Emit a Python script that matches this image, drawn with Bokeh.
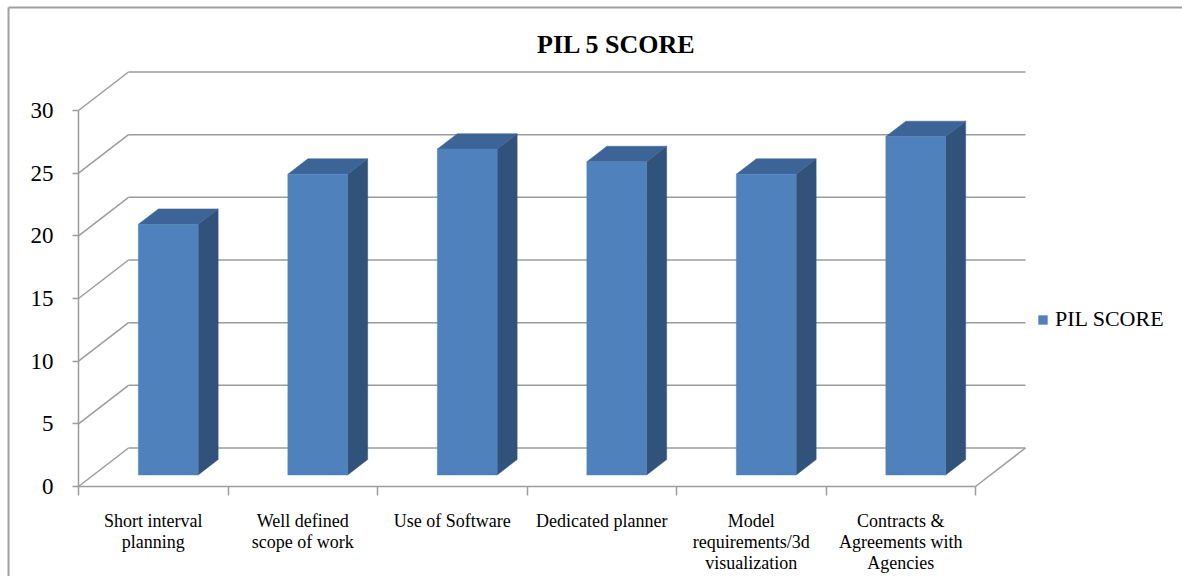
from bokeh.plotting import figure
from bokeh.models import (Range1d, LinearAxis, FixedTicker, Legend, LegendItem,
                          Label, ColumnDataSource)
from bokeh.embed import file_html
from bokeh.resources import INLINE

# ---- data -------------------------------------------------------------
categories = [
    "Short interval\nplanning",
    "Well defined\nscope of work",
    "Use of Software",
    "Dedicated planner",
    "Model\nrequirements/3d\nvisualization",
    "Contracts &\nAgreements with\nAgencies",
]
pil_score = [20, 24, 26, 25, 24, 27]
y_ticks = [0, 5, 10, 15, 20, 25, 30]
series_name = "PIL SCORE"
title_text = "PIL 5 SCORE"

# ---- layout / styling constants ----------------------------------------
W, H = 1182, 576
ORIGIN_X, ORIGIN_Y = 78, 486            # canvas px of the (0, 0) corner
PX_PER_CAT = 149.5                      # one category slot
PX_PER_VAL = 12.533                     # one unit on the value axis
DEPTH_PX_X, DEPTH_PX_Y = 50, 38.5       # oblique depth of the 3-D box

DX = DEPTH_PX_X / PX_PER_CAT            # depth offset in data units
DY = DEPTH_PX_Y / PX_PER_VAL
Z0, Z1 = 0.3, 0.7                       # bar position in depth (fraction)
BAR_L, BAR_R = 0.3, 0.7                 # bar position inside its slot

FRONT = "#4F81BD"
SIDE = "#31527B"
TOP = "#3C6497"
GRID = "#9c9c9c"
BORDER = "#a0a0a0"
SERIF = "Liberation Serif"


def px_x(px):
    """canvas x pixel -> data x"""
    return (px - ORIGIN_X) / PX_PER_CAT


def px_y(py):
    """canvas y pixel (from top) -> data y"""
    return (ORIGIN_Y - py) / PX_PER_VAL


n = len(categories)

# the frame covers the whole canvas; both axes sit at fixed data locations
p = figure(width=W, height=H,
           x_range=Range1d(px_x(0), px_x(W)), y_range=Range1d(px_y(H), px_y(0)),
           output_backend="svg", toolbar_location=None, tools="",
           x_axis_type=None, y_axis_type=None,
           min_border=0, min_border_left=0, min_border_right=0,
           min_border_top=0, min_border_bottom=0)
p.outline_line_color = None
p.grid.visible = False
p.background_fill_color = "white"
p.border_fill_color = "white"

# ---- axes ---------------------------------------------------------------
yaxis = LinearAxis(ticker=FixedTicker(ticks=y_ticks), bounds=(0, 30), fixed_location=0)
yaxis.axis_line_color = GRID
yaxis.axis_line_width = 1.5
yaxis.major_tick_line_color = GRID
yaxis.major_tick_line_width = 1.5
yaxis.major_tick_out = 6
yaxis.major_tick_in = 0
yaxis.minor_tick_line_color = None
yaxis.major_label_standoff = 19
yaxis.major_label_text_font = SERIF
yaxis.major_label_text_font_size = "23px"
yaxis.major_label_text_color = "black"
p.add_layout(yaxis, "left")

centers = [i + 0.5 for i in range(n)]
xaxis = LinearAxis(ticker=FixedTicker(ticks=centers, minor_ticks=list(range(n + 1))),
                   bounds=(0, n), fixed_location=0)
xaxis.major_label_overrides = {c: lab for c, lab in zip(centers, categories)}
xaxis.axis_line_color = GRID
xaxis.axis_line_width = 1.5
xaxis.major_tick_line_color = None
xaxis.major_tick_out = 0
xaxis.major_tick_in = 0
xaxis.minor_tick_line_color = GRID
xaxis.minor_tick_line_width = 1.5
xaxis.minor_tick_out = 9
xaxis.minor_tick_in = 0
xaxis.major_label_standoff = 15
xaxis.major_label_text_font = SERIF
xaxis.major_label_text_font_size = "18px"
xaxis.major_label_text_line_height = 1.05
xaxis.major_label_text_color = "black"
p.add_layout(xaxis, "below")

# ---- chart area border (left and top edges) ------------------------------
p.segment(x0=[px_x(8), px_x(8)], y0=[px_y(H + 5), px_y(7)],
          x1=[px_x(8), px_x(W + 5)], y1=[px_y(7), px_y(7)],
          line_color=BORDER, line_width=2)

# ---- walls: side wall diagonals, back wall gridlines, floor edge ------
p.segment(x0=[0] * len(y_ticks), y0=y_ticks,
          x1=[DX] * len(y_ticks), y1=[v + DY for v in y_ticks],
          line_color=GRID, line_width=1.5)
p.segment(x0=[DX] * len(y_ticks), y0=[v + DY for v in y_ticks],
          x1=[n + DX] * len(y_ticks), y1=[v + DY for v in y_ticks],
          line_color=GRID, line_width=1.5)
p.segment(x0=[n], y0=[0], x1=[n + DX], y1=[DY], line_color=GRID, line_width=1.5)

# ---- 3-D bars ------------------------------------------------------------
idx = list(range(n))
front = ColumnDataSource(dict(
    left=[i + BAR_L + Z0 * DX for i in idx],
    right=[i + BAR_R + Z0 * DX for i in idx],
    bottom=[Z0 * DY] * n,
    top=[v + Z0 * DY for v in pil_score],
))
side_xs, side_ys, top_xs, top_ys = [], [], [], []
for i, v in zip(idx, pil_score):
    xr0, xr1 = i + BAR_R + Z0 * DX, i + BAR_R + Z1 * DX
    xl0, xl1 = i + BAR_L + Z0 * DX, i + BAR_L + Z1 * DX
    side_xs.append([xr0, xr1, xr1, xr0])
    side_ys.append([Z0 * DY, Z1 * DY, v + Z1 * DY, v + Z0 * DY])
    top_xs.append([xl0, xr0, xr1, xl1])
    top_ys.append([v + Z0 * DY, v + Z0 * DY, v + Z1 * DY, v + Z1 * DY])

p.patches(side_xs, side_ys, fill_color=SIDE, line_color=SIDE, line_width=0.5)
p.patches(top_xs, top_ys, fill_color=TOP, line_color=TOP, line_width=0.5)
bars = p.quad(source=front, left="left", right="right", bottom="bottom", top="top",
              fill_color=FRONT, line_color=FRONT, line_width=0.5)

# ---- legend ------------------------------------------------------------
legend = Legend(items=[LegendItem(label=series_name, renderers=[bars])],
                location=(1037, H - 332), orientation="vertical",
                padding=0, margin=0, spacing=0,
                glyph_width=11, glyph_height=11, label_standoff=7,
                label_text_font=SERIF, label_text_font_size="22px",
                label_text_color="black", label_height=22,
                border_line_color=None, background_fill_alpha=0)
p.add_layout(legend)

# ---- title ----------------------------------------------------------------
p.add_layout(Label(x=px_x(616), y=px_y(44),
                   text=title_text, text_font=SERIF, text_font_size="26px",
                   text_font_style="bold", text_color="black",
                   text_align="center", text_baseline="middle"))

open("out.html", "w").write(file_html(p, INLINE))
